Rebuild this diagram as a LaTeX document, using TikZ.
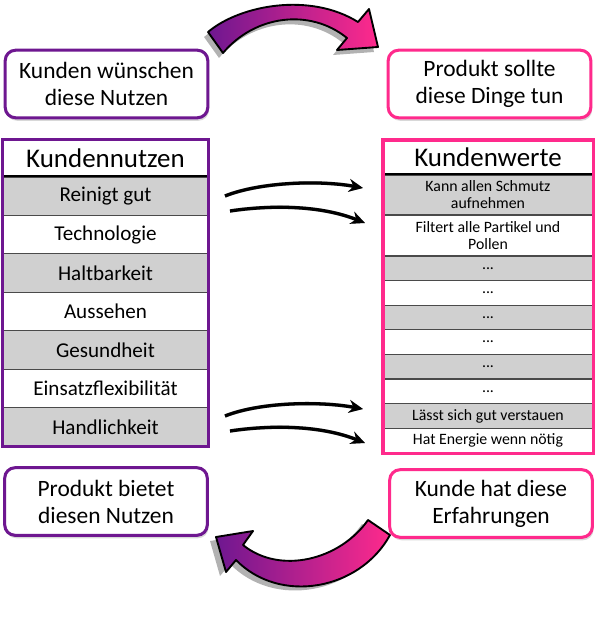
\documentclass[tikz,border=0pt]{standalone}
\usepackage{fontspec}
\setmainfont{Carlito}
\usetikzlibrary{arrows.meta,shadows}
\definecolor{mypurple}{HTML}{6E1790}
\definecolor{mypink}{HTML}{FF2A8C}
\definecolor{rowgray}{HTML}{D0D0D0}
\definecolor{divgray}{HTML}{4A4A4A}
\begin{document}
\begin{tikzpicture}[x=0.03cm,y=-0.03cm,
  bubble/.style={draw, line width=2.6pt, rounded corners=9pt, fill=white, align=center,
     font=\fontsize{20}{23}\selectfont, minimum width=6.08cm, minimum height=2.03cm, inner sep=0pt,
     drop shadow={shadow xshift=1pt, shadow yshift=-2.5pt, fill=black!30, opacity=.5}},
  lhead/.style={minimum width=6.15cm, minimum height=1.11cm, inner sep=0pt, fill=white,
     font=\fontsize{23}{25}\selectfont},
  lrow/.style={minimum width=6.15cm, minimum height=1.153cm, inner sep=0pt,
     draw=divgray, line width=1pt, font=\fontsize{18}{20}\selectfont},
  rhead/.style={minimum width=6.3cm, minimum height=1.05cm, inner sep=0pt, fill=white,
     font=\fontsize{23}{25}\selectfont},
  rrow/.style={minimum width=6.3cm, inner sep=0pt, align=center,
     draw=divgray, line width=1pt, font=\fontsize{13.5}{14.5}\selectfont},
  g/.style={fill=rowgray}, w/.style={fill=white},
  arr/.style={line width=2.8pt, -{Stealth[length=12pt,width=11pt]}, black},
  arrsh/.style={line width=3pt, -{Stealth[length=12pt,width=11pt]}, black!30},
  bigarrow/.style={draw=black, line width=1.6pt, line join=round, left color=mypurple, right color=mypink},
  bigshadow/.style={fill=black!30}
]
\useasboundingbox (0,0) rectangle (600,641);

% ---- big top arrow
\fill[bigshadow, shift={(-4,5)}] (208,32) .. controls (240,5) and (310,-8) .. (358,22) -- (369,9) -- (378,47) -- (337,50) -- (347,38) .. controls (310,8) and (255,15) .. (223,53) -- cycle;
\path[bigarrow] (208,32) .. controls (240,5) and (310,-8) .. (358,22) -- (369,9) -- (378,47) -- (337,50) -- (347,38) .. controls (310,8) and (255,15) .. (223,53) -- cycle;

% ---- big bottom arrow
\fill[bigshadow, shift={(-6,4)}] (368,520) -- (390,535) .. controls (360,590) and (280,605) .. (236,560) -- (226,572) -- (216,537) -- (253,531) -- (243,545) .. controls (280,575) and (340,560) .. (368,520) -- cycle;
\path[bigarrow] (368,520) -- (390,535) .. controls (360,590) and (280,605) .. (236,560) -- (226,572) -- (216,537) -- (253,531) -- (243,545) .. controls (280,575) and (340,560) .. (368,520) -- cycle;

% ---- bubbles
\node[bubble, draw=mypurple] (tl) at (106.5,84) {Kunden wünschen\\diese Nutzen};
\node[bubble, draw=mypink] (tr) at (489.5,84) {Produkt sollte\\diese Dinge tun};
\node[bubble, draw=mypurple] (bl) at (106,501.5) {Produkt bietet\\diesen Nutzen};
\node[bubble, draw=mypink] (br) at (491,503.5) {Kunde hat diese\\Erfahrungen};

% ---- left table
\node[lhead] (lh) at (105.5,158.5) {Kundennutzen};
\node[lrow,g] (l1) at (105.5,196.2) {Reinigt gut};
\node[lrow,w] (l2) at (105.5,234.6) {Technologie};
\node[lrow,g] (l3) at (105.5,273.1) {Haltbarkeit};
\node[lrow,w] (l4) at (105.5,311.5) {Aussehen};
\node[lrow,g] (l5) at (105.5,349.9) {Gesundheit};
\node[lrow,w] (l6) at (105.5,388.4) {Einsatzflexibilität};
\node[lrow,g] (l7) at (105.5,426.8) {Handlichkeit};
\draw[black, line width=1.6pt] (l1.north west) -- (l1.north east);
\draw[mypurple, line width=2.6pt] (lh.north west) rectangle (l7.south east);

% ---- right table
\node[rhead] (rh) at (488,157.5) {Kundenwerte};
\node[rrow,g,minimum height=1.2cm] (r1) at (488,195) {Kann allen Schmutz\\aufnehmen};
\node[rrow,w,minimum height=1.23cm] (r2) at (488,235.5) {Filtert alle Partikel und\\Pollen};
\node[rrow,g,minimum height=0.7375cm] (r3) at (488,268.3) {...};
\node[rrow,w,minimum height=0.7375cm] (r4) at (488,292.9) {...};
\node[rrow,g,minimum height=0.7375cm] (r5) at (488,317.5) {...};
\node[rrow,w,minimum height=0.7375cm] (r6) at (488,342.1) {...};
\node[rrow,g,minimum height=0.7375cm] (r7) at (488,366.7) {...};
\node[rrow,w,minimum height=0.7375cm] (r8) at (488,391.3) {...};
\node[rrow,g,minimum height=0.7375cm] (r9) at (488,415.9) {Lässt sich gut verstauen};
\node[rrow,w,minimum height=0.7375cm] (r10) at (488,440.5) {Hat Energie wenn nötig};
\draw[black, line width=1.6pt] (r1.north west) -- (r1.north east);
\draw[mypink, line width=3pt] (rh.north west) rectangle (r10.south east);

% ---- connector end points
\coordinate (a1s) at (225,196); \coordinate (a1e) at (363,188);
\coordinate (a2s) at (230,211); \coordinate (a2e) at (365,223);
\coordinate (a3s) at (225,416); \coordinate (a3e) at (363,409);
\coordinate (a4s) at (230,431); \coordinate (a4e) at (365,443);

\begin{scope}[shift={(1,2)}]
\draw[arrsh] (a1s) .. controls +(35,-14) and +(-43,-8) .. (a1e);
\draw[arrsh] (a2s) .. controls +(40,-6) and +(-45,-18) .. (a2e);
\draw[arrsh] (a3s) .. controls +(35,-14) and +(-43,-8) .. (a3e);
\draw[arrsh] (a4s) .. controls +(40,-6) and +(-45,-18) .. (a4e);
\end{scope}
\draw[arr] (a1s) .. controls +(35,-14) and +(-43,-8) .. (a1e);
\draw[arr] (a2s) .. controls +(40,-6) and +(-45,-18) .. (a2e);
\draw[arr] (a3s) .. controls +(35,-14) and +(-43,-8) .. (a3e);
\draw[arr] (a4s) .. controls +(40,-6) and +(-45,-18) .. (a4e);
\end{tikzpicture}
\end{document}
